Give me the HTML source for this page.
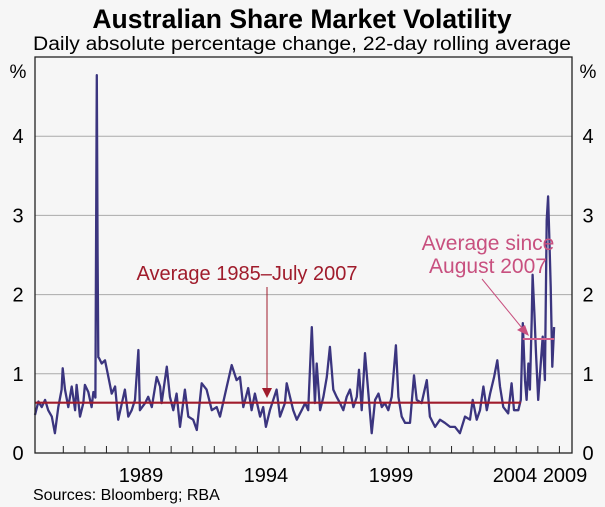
<!DOCTYPE html>
<html><head><meta charset="utf-8"><style>
body{margin:0;background:#f6f6f6;}
svg{display:block;font-family:"Liberation Sans",sans-serif;}
</style></head><body>
<svg id="c" width="605" height="507" viewBox="0 0 605 507">
<rect width="605" height="507" fill="#f6f6f6"/>
<text x="302" y="28" text-anchor="middle" font-size="26.5" font-weight="bold" fill="#000">Australian Share Market Volatility</text>
<text x="302" y="50" text-anchor="middle" font-size="19" fill="#000" textLength="538" lengthAdjust="spacingAndGlyphs">Daily absolute percentage change, 22-day rolling average</text>
<text x="18" y="78" text-anchor="middle" font-size="19">%</text>
<text x="588" y="78" text-anchor="middle" font-size="19">%</text>
<g id="grid"></g><g id="ticks"></g><g id="ylab"></g><g id="xlab"></g>
<g id="series"></g>
<rect x="35" y="57" width="537" height="396" fill="none" stroke="#222" stroke-width="1.3"/>
<text x="247" y="280" text-anchor="middle" font-size="20" fill="#a01c2c">Average 1985–July 2007</text>
<line x1="267" y1="287" x2="267" y2="388" stroke="#a01c2c" stroke-width="1"/>
<polygon points="262,388 272,388 267,398" fill="#a01c2c"/>
<text x="488" y="250" text-anchor="middle" font-size="21" fill="#c8507f">Average since</text>
<text x="488" y="273" text-anchor="middle" font-size="21" fill="#c8507f">August 2007</text>
<line x1="482" y1="279" x2="522" y2="328" stroke="#c8507f" stroke-width="1"/>
<polygon points="517,330 525,325 529,336" fill="#c8507f"/>
<text x="33" y="500" font-size="16" fill="#000">Sources: Bloomberg; RBA</text>
</svg>
<script>
const years=[1985.00,1985.15,1985.30,1985.45,1985.59,1985.75,1985.89,1986.04,1986.19,1986.24,1986.34,1986.49,1986.64,1986.79,1986.86,1987.01,1987.16,1987.23,1987.38,1987.53,1987.61,1987.70,1987.76,1987.80,1987.83,1987.86,1987.98,1988.13,1988.28,1988.43,1988.58,1988.72,1989.02,1989.17,1989.32,1989.47,1989.62,1989.69,1989.92,1990.06,1990.22,1990.44,1990.59,1990.66,1990.89,1991.03,1991.18,1991.33,1991.48,1991.70,1991.85,1992.07,1992.23,1992.45,1992.67,1992.90,1993.12,1993.27,1993.57,1993.79,1994.01,1994.16,1994.31,1994.53,1994.68,1994.83,1995.06,1995.20,1995.32,1995.50,1995.80,1995.95,1996.17,1996.25,1996.54,1996.70,1996.92,1997.07,1997.21,1997.37,1997.51,1997.59,1997.74,1997.89,1998.04,1998.18,1998.33,1998.48,1998.63,1998.78,1998.93,1999.08,1999.23,1999.38,1999.48,1999.60,1999.75,1999.90,2000.05,2000.20,2000.35,2000.50,2000.64,2000.79,2000.94,2001.13,2001.24,2001.39,2001.54,2001.76,2001.94,2002.06,2002.28,2002.51,2002.65,2002.88,2003.10,2003.32,2003.55,2003.77,2003.99,2004.22,2004.44,2004.56,2004.74,2004.89,2005.04,2005.19,2005.34,2005.52,2005.66,2005.78,2005.93,2006.15,2006.30,2006.41,2006.60,2006.71,2006.80,2006.90,2006.97,2007.05,2007.12,2007.20,2007.24,2007.32,2007.39,2007.49,2007.57,2007.69,2007.79,2007.87,2007.93,2007.99,2008.05,2008.12,2008.20];
const volatility=[0.48,0.65,0.58,0.67,0.54,0.46,0.25,0.58,0.80,1.07,0.80,0.58,0.84,0.54,0.86,0.46,0.63,0.86,0.77,0.58,0.77,0.70,4.77,2.50,1.21,1.20,1.13,1.17,0.96,0.75,0.84,0.42,0.80,0.46,0.54,0.67,1.30,0.54,0.63,0.71,0.58,0.96,0.84,0.63,1.09,0.71,0.54,0.75,0.33,0.80,0.46,0.42,0.29,0.88,0.80,0.54,0.58,0.46,0.84,1.11,0.92,0.96,0.58,0.82,0.54,0.75,0.46,0.58,0.33,0.54,0.80,0.46,0.63,0.88,0.54,0.42,0.54,0.63,0.54,1.59,0.63,1.13,0.54,0.71,0.96,1.34,0.80,0.71,0.63,0.54,0.71,0.80,0.58,0.71,1.05,0.54,1.26,0.75,0.25,0.67,0.75,0.58,0.63,0.54,0.71,1.36,0.71,0.46,0.38,0.38,0.98,0.67,0.63,0.92,0.46,0.33,0.42,0.38,0.33,0.33,0.25,0.46,0.42,0.67,0.42,0.54,0.84,0.54,0.75,0.96,1.17,0.84,0.58,0.50,0.88,0.54,0.54,0.67,1.64,0.92,0.67,1.13,0.80,1.68,2.25,1.76,1.26,0.67,1.00,1.47,0.92,2.94,3.24,2.69,2.10,1.09,1.59];
const avgLong={start:1985.0,end:2006.71,value:0.635};
const avgRecent={start:2006.80,end:2008.20,value:1.44};
const yTicks=[0,1,2,3,4];
const xLabels=["1989","1994","1999","2004","2009"];
const xLabelYears=[1989.74,1995.32,2000.91,2006.45,2008.69];

const NS="http://www.w3.org/2000/svg";
const X0=35,X1=572,Y0=453,Y1=57,D0=1985,D1=2009,V0=0,V1=5;
function xs(t){return X0+(t-D0)/(D1-D0)*(X1-X0);}
function ys(v){return Y0-(v-V0)/(V1-V0)*(Y0-Y1);}
function mk(tag,attrs,parent){const e=document.createElementNS(NS,tag);for(const k in attrs)e.setAttribute(k,attrs[k]);document.getElementById(parent).appendChild(e);return e;}

yTicks.forEach(v=>{
  if(v>0){const g=mk('line',{x1:X0,x2:X1,y1:ys(v),y2:ys(v),stroke:'#aaa','stroke-width':1},'grid');
  
  }
  const l=mk('text',{x:18,y:ys(v)+7,'text-anchor':'middle','font-size':20},'ylab');l.textContent=v;
  
  
  const r=mk('text',{x:588,y:ys(v)+7,'text-anchor':'middle','font-size':20},'ylab');r.textContent=v;
  
  
});
for(let i=0;i<24;i++){
  const x=63.3+i*21.57;
  const t=mk('line',{x1:x,x2:x,y1:Y0,y2:Y0-7,stroke:'#222','stroke-width':1},'ticks');
  
  
}
xLabels.forEach((s,i)=>{
  const t=mk('text',{x:xs(xLabelYears[i]),y:482,'text-anchor':'middle','font-size':20},'xlab');t.textContent=s;
  
  
});
const pts=years.map((t,i)=>xs(t).toFixed(1)+','+ys(volatility[i]).toFixed(1)).join(' ');
const line=mk('polyline',{points:pts,fill:'none',stroke:'#3b357f','stroke-width':2.3,'stroke-linejoin':'round'},'series');


const a1=mk('line',{x1:xs(avgLong.start),x2:xs(avgLong.end),y1:ys(avgLong.value),y2:ys(avgLong.value),stroke:'#a01c2c','stroke-width':2.2},'series');


const a2=mk('line',{x1:xs(avgRecent.start),x2:xs(avgRecent.end),y1:ys(avgRecent.value),y2:ys(avgRecent.value),stroke:'#d0608c','stroke-width':2},'series');


</script>
</body></html>
